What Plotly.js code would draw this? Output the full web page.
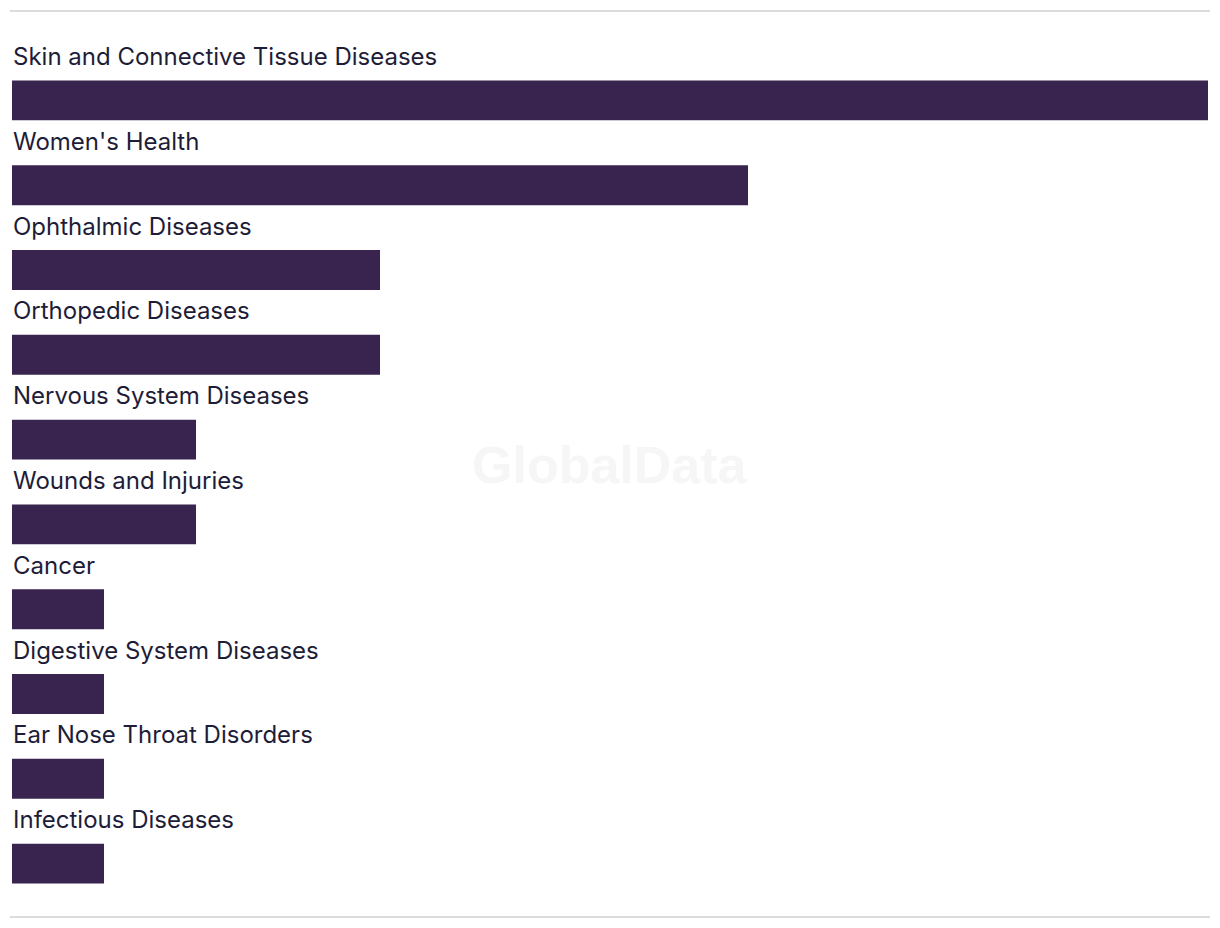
<!DOCTYPE html>
<html>
<head>
<meta charset="utf-8">
<script src="https://cdn.plot.ly/plotly-3.0.1.min.js"></script>
<style>
  body { margin: 0; background: #fff; }
  #chart { width: 1220px; height: 928px; }
</style>
</head>
<body>
<div id="chart"></div>
<script>
// therapy areas, top to bottom
var areas = [
    "Skin and Connective Tissue Diseases",
    "Women's Health",
    "Ophthalmic Diseases",
    "Orthopedic Diseases",
    "Nervous System Diseases",
    "Wounds and Injuries",
    "Cancer",
    "Digestive System Diseases",
    "Ear Nose Throat Disorders",
    "Infectious Diseases"
];
var counts = [13, 8, 4, 4, 2, 2, 1, 1, 1, 1];

var barColor = "#38244f";
var textColor = "#1e1d38";

var trace = {
    type: "bar",
    orientation: "h",
    x: counts,
    y: areas,
    marker: { color: barColor },
    width: 0.47,
    hoverinfo: "skip"
};

// category labels sit above each bar
var labels = areas.map(function (a) {
    return {
        x: 0, xref: "paper",
        y: a, yref: "y",
        text: a,
        showarrow: false,
        xanchor: "left",
        yanchor: "middle",
        yshift: 44,
        xshift: -1,
        font: { family: "Inter, 'Noto Sans', sans-serif", size: 24, color: textColor }
    };
});

labels.push({
    x: 0.5, xref: "paper",
    y: 0.52, yref: "paper",
    text: "<b>GlobalData</b>",
    showarrow: false,
    font: { family: "Liberation Sans, Arial, sans-serif", size: 52, color: "#f6f6f6" }
});

var layout = {
    width: 1220,
    height: 928,
    margin: { l: 12, r: 12, t: 58, b: 22, autoexpand: false },
    paper_bgcolor: "#fff",
    plot_bgcolor: "#fff",
    showlegend: false,
    xaxis: { range: [0, 13], visible: false, fixedrange: true },
    yaxis: { range: [areas.length - 0.5, -0.5], visible: false, fixedrange: true },
    annotations: labels,
    shapes: [
        { type: "line", xref: "paper", yref: "paper", x0: -0.0017, x1: 1.0017, y0: 1.0554, y1: 1.0554,
          line: { color: "#dcdcdc", width: 2 } },
        { type: "line", xref: "paper", yref: "paper", x0: -0.0017, x1: 1.0017, y0: -0.013, y1: -0.013,
          line: { color: "#dcdcdc", width: 2 } }
    ]
};

Plotly.newPlot("chart", [trace], layout, { displayModeBar: false, staticPlot: true });
</script>
</body>
</html>
